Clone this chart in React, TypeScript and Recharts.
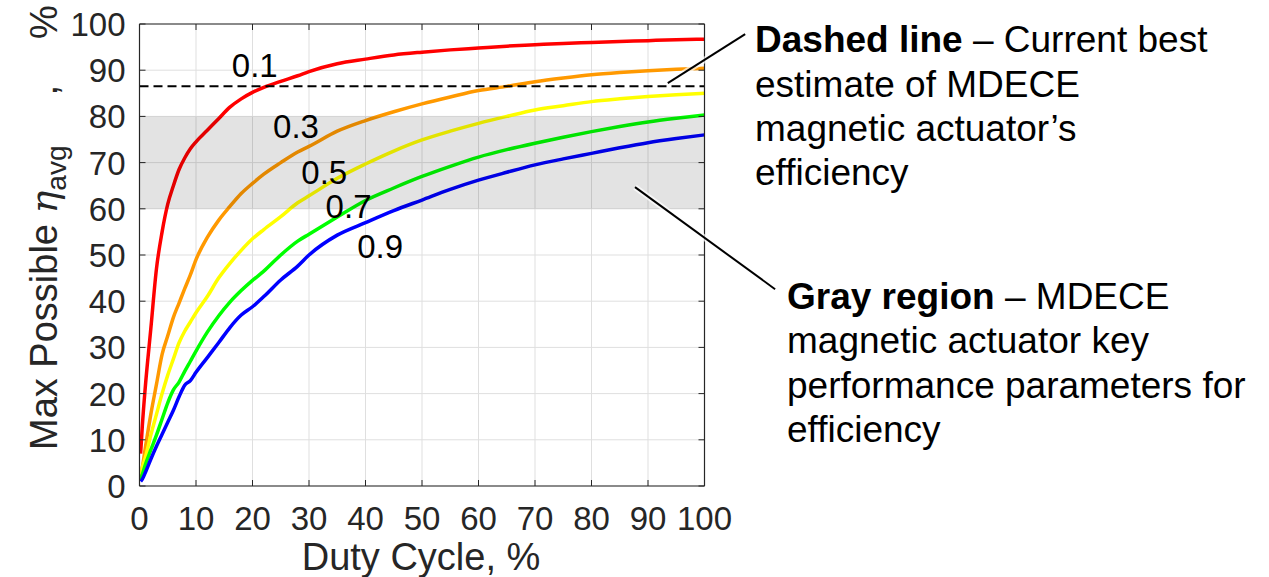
import React from 'react';
import {
  LineChart, Line, XAxis, YAxis, CartesianGrid, ReferenceLine, ReferenceArea, ReferenceDot,
} from 'recharts';

const dutyCycle = [0.2, 0.5, 1, 2, 3, 4, 5, 6, 7, 8, 9, 10, 12, 14, 16, 18, 20, 22, 25, 28, 30, 35, 40, 45, 50, 55, 60, 65, 70, 75, 80, 85, 90, 95, 100];
const eta01 = [7, 13, 21, 34, 47, 55, 61, 65, 68.5, 71, 73, 74.5, 77, 79.5, 82, 83.8, 85.2, 86.3, 87.6, 88.8, 89.7, 91.4, 92.4, 93.3, 93.9, 94.4, 94.8, 95.2, 95.5, 95.8, 96.0, 96.2, 96.4, 96.6, 96.7];
const eta03 = [2, 4, 8, 15.5, 22, 28.5, 32.5, 36.5, 39.6, 42.7, 45.7, 49, 53.8, 57.5, 60.5, 63.3, 65.5, 67.5, 70, 72.3, 73.5, 76.8, 79.1, 81, 82.7, 84.2, 85.6, 86.5, 87.5, 88.3, 89, 89.5, 89.9, 90.2, 90.4];
const eta05 = [2.5, 4, 6, 11, 15.5, 20, 24, 27.5, 31, 33.5, 35.5, 37.5, 41, 45, 48.2, 51, 53.5, 55.5, 58.3, 61.3, 62.8, 66.6, 69.7, 72.5, 74.9, 76.8, 78.5, 80, 81.4, 82.3, 83.2, 83.8, 84.3, 84.7, 85];
const eta07 = [1.5, 2.5, 4.5, 7.8, 11, 14.5, 18, 20.8, 22.5, 24.8, 27, 29.2, 33.3, 36.8, 39.8, 42.3, 44.5, 46.5, 50, 53, 54.5, 58.2, 61.8, 64.5, 67, 69.2, 71.2, 72.8, 74.2, 75.5, 76.7, 77.8, 78.8, 79.6, 80.3];
const eta09 = [1, 1.5, 2.8, 5.8, 8.6, 11.2, 13.8, 16.4, 19.3, 21.8, 22.8, 24.6, 27.8, 31, 34.3, 37, 38.8, 41, 44.6, 47.6, 50, 54.3, 57, 59.6, 61.9, 64.2, 66.2, 67.9, 69.5, 70.8, 72, 73.2, 74.3, 75.2, 76];

const seriesKeys = ['s01', 's03', 's05', 's07', 's09'];
const seriesColors = ['#FF0000', '#FF9900', '#FFFF00', '#00FF00', '#0000FF'];
const seriesValues = [eta01, eta03, eta05, eta07, eta09];

const curveLabels = ['0.1', '0.3', '0.5', '0.7', '0.9'];
const curveLabelX = [20.4, 27.7, 32.7, 37.0, 42.6];
const curveLabelY = [91.1, 77.9, 68.0, 60.5, 51.8];

const xTicks = [0, 10, 20, 30, 40, 50, 60, 70, 80, 90, 100];
const yTicks = [0, 10, 20, 30, 40, 50, 60, 70, 80, 90, 100];

const bestEstimate = 86.5;
const grayLow = 60;
const grayHigh = 80;

const data = dutyCycle.map((x, i) => {
  const row: Record<string, number> = { x };
  seriesKeys.forEach((k, j) => { row[k] = seriesValues[j][i]; });
  return row;
});

const AX = '#262626';
const FONT = '"Liberation Sans", Arial, Helvetica, sans-serif';
const TICK_LEN = 6;

const BottomTick = (props: any) => {
  const { x, y, payload } = props;
  return (
    <g>
      <line x1={x} x2={x} y1={y} y2={y - TICK_LEN} stroke={AX} strokeWidth={1} />
      <text x={x} y={y + 44} textAnchor="middle" fontSize={33} fill={AX} fontFamily={FONT}>{payload.value}</text>
    </g>
  );
};
const TopTick = (props: any) => {
  const { x, y } = props;
  return <line x1={x} x2={x} y1={y} y2={y + TICK_LEN} stroke={AX} strokeWidth={1} />;
};
const LeftTick = (props: any) => {
  const { x, y, payload } = props;
  return (
    <g>
      <line x1={x} x2={x + TICK_LEN} y1={y} y2={y} stroke={AX} strokeWidth={1} />
      <text x={x - 14} y={y + 12} textAnchor="end" fontSize={33} fill={AX} fontFamily={FONT}>{payload.value}</text>
    </g>
  );
};
const RightTick = (props: any) => {
  const { x, y } = props;
  return <line x1={x} x2={x - TICK_LEN} y1={y} y2={y} stroke={AX} strokeWidth={1} />;
};

export default function App() {
  return (
    <div style={{ position: 'absolute', left: 0, top: 0, width: 1269, height: 577, background: '#fff', fontFamily: FONT }}>
      <LineChart width={1269} height={577} data={data} margin={{ top: 23, right: 563.5, bottom: 90, left: 138.5 }}>
        <CartesianGrid stroke="#DFDFDF" strokeWidth={1} />
        <XAxis dataKey="x" type="number" domain={[0, 100]} ticks={xTicks} height={1} tickSize={0} tickMargin={0}
          axisLine={{ stroke: AX, strokeWidth: 1.2 }} tickLine={false} tick={<BottomTick />} interval={0} allowDataOverflow />
        <XAxis xAxisId="t" orientation="top" dataKey="x" type="number" domain={[0, 100]} ticks={xTicks} height={1} tickSize={0} tickMargin={0}
          axisLine={{ stroke: AX, strokeWidth: 1.2 }} tickLine={false} tick={<TopTick />} interval={0} allowDataOverflow />
        <YAxis type="number" domain={[0, 100]} ticks={yTicks} width={1} tickSize={0} tickMargin={0}
          axisLine={{ stroke: AX, strokeWidth: 1.2 }} tickLine={false} tick={<LeftTick />} interval={0} allowDataOverflow />
        <YAxis yAxisId="r" orientation="right" type="number" domain={[0, 100]} ticks={yTicks} width={1} tickSize={0} tickMargin={0}
          axisLine={{ stroke: AX, strokeWidth: 1.2 }} tickLine={false} tick={<RightTick />} interval={0} allowDataOverflow />
        {seriesKeys.map((k, j) => (
          <Line key={k} dataKey={k} type="monotone" stroke={seriesColors[j]} strokeWidth={3.5} dot={false}
            isAnimationActive={false} activeDot={false} />
        ))}
        <ReferenceLine y={bestEstimate} stroke="#000" strokeWidth={2} strokeDasharray="9 5" />
        {curveLabels.map((t, i) => (
          <ReferenceDot key={t} x={curveLabelX[i]} y={curveLabelY[i]} r={0} fill="none" stroke="none" ifOverflow="visible"
            label={{ value: t, position: 'center', fontSize: 33, fill: '#000', fontFamily: FONT }} />
        ))}
      </LineChart>
      <div style={{ position: 'absolute', left: 0, top: 0, pointerEvents: 'none' }}>
        <LineChart width={1269} height={577} data={data} margin={{ top: 24, right: 564.5, bottom: 91, left: 139.5 }}>
          <XAxis dataKey="x" type="number" domain={[0, 100]} hide allowDataOverflow />
          <YAxis type="number" domain={[0, 100]} hide allowDataOverflow />
          <ReferenceArea y1={grayLow} y2={grayHigh} x1={0} x2={100} fill="#000" fillOpacity={0.11} stroke="none" />
          <ReferenceLine segment={[{ x: 93.5, y: 87.2 }, { x: 107.2, y: 97.8 }]} ifOverflow="visible" stroke="#fff" strokeOpacity={0.7} strokeWidth={6} />
          <ReferenceLine segment={[{ x: 93.5, y: 87.2 }, { x: 107.2, y: 97.8 }]} ifOverflow="visible" stroke="#000" strokeWidth={2} />
          <ReferenceLine segment={[{ x: 87.7, y: 64.7 }, { x: 112.5, y: 42.6 }]} ifOverflow="visible" stroke="#fff" strokeOpacity={0.7} strokeWidth={6} />
          <ReferenceLine segment={[{ x: 87.7, y: 64.7 }, { x: 112.5, y: 42.6 }]} ifOverflow="visible" stroke="#000" strokeWidth={2} />
        </LineChart>
      </div>
      <svg width={1269} height={577} style={{ position: 'absolute', left: 0, top: 0, pointerEvents: 'none' }}>
        <text transform="translate(57,450) rotate(-90)" fontSize={38} fill={AX} fontFamily={FONT}>
          Max Possible <tspan fontStyle="italic" fontFamily='"DejaVu Serif", serif'>η</tspan>
          <tspan fontSize={28} dy={9}>avg</tspan>
          <tspan dy={-9} dx={50}>,</tspan>
          <tspan dx={46}>%</tspan>
        </text>
        <text x={421} y={570} textAnchor="middle" fontSize={38} fill={AX} fontFamily={FONT}>Duty Cycle, %</text>
        <g fontSize={37} fill="#000" fontFamily={FONT}>
          <text x={755} y={52}><tspan fontWeight="bold">Dashed line</tspan> – Current best</text>
          <text x={755} y={97}>estimate of MDECE</text>
          <text x={755} y={141}>magnetic actuator’s</text>
          <text x={755} y={185}>efficiency</text>
          <text x={787} y={309}><tspan fontWeight="bold">Gray region</tspan> – MDECE</text>
          <text x={787} y={353}>magnetic actuator key</text>
          <text x={787} y={398}>performance parameters for</text>
          <text x={787} y={442}>efficiency</text>
        </g>
      </svg>
    </div>
  );
}
